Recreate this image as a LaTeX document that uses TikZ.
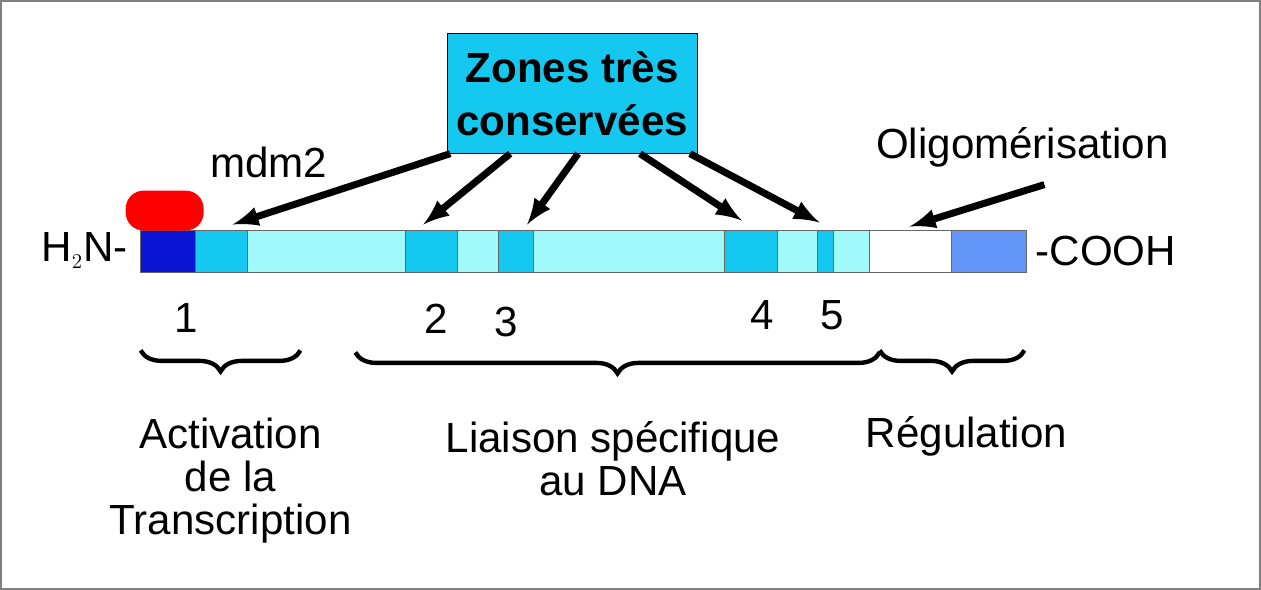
\documentclass[tikz,border=0pt]{standalone}
\usepackage{fontspec}
\setmainfont{Liberation Sans}
\usetikzlibrary{arrows,decorations.pathreplacing}
\definecolor{zcyan}{RGB}{20,200,240}
\definecolor{zlight}{RGB}{160,250,252}
\definecolor{zblue}{RGB}{10,20,210}
\definecolor{zmid}{RGB}{100,150,250}
\begin{document}
\begin{tikzpicture}[x=0.02cm,y=-0.02cm]
		\tikzstyle {seg} = [draw=black!60, line width=0.6pt]
		\tikzstyle {big arrow} = [line width=4pt, -latex]
		\tikzstyle {lab} = [font=\fontsize{24}{24.5}\selectfont, align=center]
		\tikzstyle {curly} = [decorate, decoration={brace, mirror, amplitude=12pt}, line width=2.5pt]

		\draw[gray, line width=1pt, fill=white] (0,0) rectangle (1261,589);

		% protein bar
		\foreach \a/\b/\c in {140/195/zblue, 195/247/zcyan, 247/405/zlight, 405/457/zcyan,
			457/498/zlight, 498/533/zcyan, 533/725/zlight, 725/778/zcyan, 778/818/zlight,
			818/834/zcyan, 834/870/zlight, 870/952/white, 952/1027/zmid}
			\filldraw[seg, fill=\c] (\a,230) rectangle (\b,272);

		\fill[red, rounded corners=0.36cm] (125,190) rectangle (203,230);

		\node[lab, anchor=east] (nterm) at (133,250) {H$_{\scriptscriptstyle 2}$N-};
		\node[lab, anchor=west] (cterm) at (1030,250) {-COOH};

		\node[draw=black, fill=zcyan, minimum width=250*0.02cm, minimum height=120*0.02cm,
			font=\fontsize{24}{30}\selectfont\bfseries, align=center] (zones) at (572,93)
			{Zones très\\conservées};
		\node[lab] (mdm) at (268,162) {mdm2};
		\node[lab] (oligo) at (1023,147) {Oligomérisation};

		\coordinate (t1) at (232,224);
		\coordinate (t2) at (423,224);
		\coordinate (t3) at (527,224);
		\coordinate (t4) at (742,220);
		\coordinate (t5) at (820,222);
		\coordinate (t6) at (910,226);
		\coordinate (o1) at (1045,184);

		\draw[big arrow] (450,153) -- (t1);
		\draw[big arrow] (510,153) -- (t2);
		\draw[big arrow] (578,153) -- (t3);
		\draw[big arrow] (640,153) -- (t4);
		\draw[big arrow] (690,153) -- (t5);
		\draw[big arrow] (o1) -- (t6);

		\foreach \n/\x/\y in {1/186/318, 2/436/318, 3/506/322, 4/762/315, 5/832/315}
			\node[lab] (num\n) at (\x,\y) {\n};

		\draw[curly] (140,350) -- (300,350);
		\draw[curly] (355,352) -- (880,352);
		\draw[curly] (880,350) -- (1025,350);

		\node[lab] (act) at (230,480) {Activation\\de la\\Transcription};
		\node[lab] (liai) at (613,458) {Liaison spécifique\\au DNA};
		\node[lab] (reg) at (967,436) {Régulation};
	\end{tikzpicture}
\end{document}
